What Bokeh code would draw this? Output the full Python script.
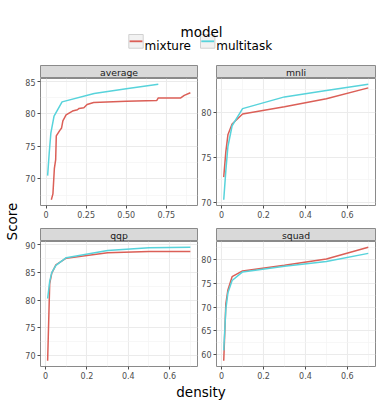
import math
from bokeh.plotting import figure
from bokeh.models import Range1d, FixedTicker, Label
from bokeh.layouts import column, row
from bokeh.embed import file_html
from bokeh.resources import INLINE

# ---------------- data ----------------
models = ["mixture", "multitask"]
panels = ["average", "mnli", "qqp", "squad"]

density = [0.01, 0.02, 0.03, 0.05, 0.1, 0.3, 0.5, 0.7]

avg_mixture_density = [0.033, 0.043, 0.052, 0.060, 0.064, 0.085, 0.097, 0.105,
                       0.125, 0.165, 0.196, 0.206, 0.236, 0.256, 0.297, 0.50,
                       0.69, 0.70, 0.84, 0.862, 0.90]
avg_mixture_score = [66.8, 67.7, 71.6, 72.9, 76.6, 77.4, 77.8, 78.9,
                     79.8, 80.4, 80.6, 80.8, 80.9, 81.4, 81.7, 81.9,
                     82.0, 82.4, 82.4, 82.8, 83.2]
avg_multitask_score = [70.5, 74.0, 77.0, 79.6, 81.8, 83.1, 83.8, 84.5]

mnli_mixture = [72.8, 75.6, 77.5, 78.7, 79.8, 80.6, 81.5, 82.7]
mnli_multitask = [70.3, 73.5, 76.2, 78.5, 80.4, 81.7, 82.4, 83.1]

qqp_mixture = [69.0, 83.0, 84.9, 86.4, 87.6, 88.6, 88.8, 88.8]
qqp_multitask = [80.3, 83.4, 85.0, 86.3, 87.7, 89.0, 89.5, 89.6]

squad_mixture = [58.7, 70.7, 73.6, 76.4, 77.6, 78.8, 80.1, 82.6]
squad_multitask = [60.9, 69.5, 73.0, 75.6, 77.4, 78.6, 79.6, 81.3]

avg_x_ticks = [0, 0.25, 0.5, 0.75]
avg_x_labels = ["0", "0.25", "0.50", "0.75"]
task_x_ticks = [0, 0.2, 0.4, 0.6]
task_x_labels = ["0", "0.2", "0.4", "0.6"]
avg_y_ticks = [70, 75, 80, 85]
mnli_y_ticks = [70, 75, 80]
qqp_y_ticks = [70, 75, 80, 85, 90]
squad_y_ticks = [60, 65, 70, 75, 80]

# ---------------- style ----------------
COLORS = {"mixture": "#DB5F57", "multitask": "#57D3DB"}
FONT = "DejaVu Sans"
BORDER = "#8a8a8a"
TICK_TXT = "#4d4d4d"

YLAB_W = 22
LEFT_W, RIGHT_W = 176, 179
LEFT_MB_L, RIGHT_MB_L = 15, 16
LEFT_MB_R, RIGHT_MB_R = 1, 2


def expand(vals, mult=0.05):
    lo, hi = min(vals), max(vals)
    d = (hi - lo) * mult
    return lo - d, hi + d


def minor_of(ticks, lo, hi):
    step = ticks[1] - ticks[0]
    cands = [ticks[0] - step / 2] + [t + step / 2 for t in ticks]
    return [c for c in cands if lo <= c <= hi]


def make_panel(series, xticks, xlabels, yticks, width, mb_left, mb_right, height, bottom):
    allx = [v for s in series for v in s[1]]
    ally = [v for s in series for v in s[2]]
    x0, x1 = expand(allx)
    y0, y1 = expand(ally)
    p = figure(width=width, height=height, x_range=Range1d(x0, x1), y_range=Range1d(y0, y1),
               min_border_left=mb_left, min_border_right=mb_right, min_border_top=0,
               min_border_bottom=bottom, toolbar_location=None, output_backend="svg")
    p.xaxis.ticker = FixedTicker(ticks=xticks, minor_ticks=minor_of(xticks, x0, x1))
    p.yaxis.ticker = FixedTicker(ticks=yticks, minor_ticks=minor_of(yticks, y0, y1))
    p.xaxis.major_label_overrides = {t: l for t, l in zip(xticks, xlabels)}
    p.yaxis.major_label_overrides = {t: str(t) for t in yticks}
    for ax in (p.xaxis, p.yaxis):
        ax.axis_line_color = None
        ax.minor_tick_line_color = None
        ax.major_tick_line_color = "#4d4d4d"
        ax.major_tick_out = 3
        ax.major_tick_in = 0
        ax.major_label_standoff = 1
        ax.major_label_text_font = FONT
        ax.major_label_text_font_size = "8px"
        ax.major_label_text_color = TICK_TXT
    for g in (p.xgrid, p.ygrid):
        g.grid_line_color = "#ebebeb"
        g.grid_line_width = 1.1
        g.minor_grid_line_color = "#f3f3f3"
        g.minor_grid_line_width = 0.7
    p.outline_line_color = BORDER
    p.outline_line_width = 1
    p.background_fill_color = "white"
    for model, xs, ys in series:
        p.line(xs, ys, line_color=COLORS[model], line_width=1.5)
    return p


def make_strip(name, width, mb_left, mb_right):
    s = figure(width=width, height=13, x_range=Range1d(0, 1), y_range=Range1d(0, 1),
               min_border_left=mb_left, min_border_right=mb_right, min_border_top=0,
               min_border_bottom=0, x_axis_location=None, y_axis_location=None,
               toolbar_location=None, output_backend="svg")
    s.grid.visible = False
    s.background_fill_color = "#d9d9d9"
    s.outline_line_color = BORDER
    s.add_layout(Label(x=0.5, y=0.45, text=name, text_align="center", text_baseline="middle",
                       text_font=FONT, text_font_size="9.3px", text_color="#1a1a1a"))
    return s


def blank(width, height):
    b = figure(width=width, height=height, x_range=Range1d(0, width), y_range=Range1d(height, 0),
               min_border=0, x_axis_location=None, y_axis_location=None,
               toolbar_location=None, output_backend="svg")
    b.grid.visible = False
    b.outline_line_color = None
    b.background_fill_color = "white"
    return b


p_avg = make_panel([("mixture", avg_mixture_density, avg_mixture_score),
                    ("multitask", density, avg_multitask_score)],
                   avg_x_ticks, avg_x_labels, avg_y_ticks, LEFT_W, LEFT_MB_L, LEFT_MB_R, 150, 23)
p_mnli = make_panel([("mixture", density, mnli_mixture),
                     ("multitask", density, mnli_multitask)],
                    task_x_ticks, task_x_labels, mnli_y_ticks, RIGHT_W, RIGHT_MB_L, RIGHT_MB_R, 150, 23)
p_qqp = make_panel([("mixture", density, qqp_mixture),
                    ("multitask", density, qqp_multitask)],
                   task_x_ticks, task_x_labels, qqp_y_ticks, LEFT_W, LEFT_MB_L, LEFT_MB_R, 140, 15)
p_squad = make_panel([("mixture", density, squad_mixture),
                      ("multitask", density, squad_multitask)],
                     task_x_ticks, task_x_labels, squad_y_ticks, RIGHT_W, RIGHT_MB_L, RIGHT_MB_R, 140, 15)

# header: legend title + keys
TOTAL_W = YLAB_W + LEFT_W + RIGHT_W
header = blank(TOTAL_W, 65)
header.add_layout(Label(x=201, y=31.7, text="model", text_align="center", text_baseline="alphabetic",
                        text_font=FONT, text_font_size="13.5px", text_color="black"))
key_left = [128.3, 200.0]
for i, m in enumerate(models):
    kx = key_left[i]
    header.quad(left=[kx], right=[kx + 14.4], top=[34], bottom=[47.7],
                fill_color="#f2f2f2", line_color="#d0d0d0", line_width=1)
    header.segment(x0=[kx + 0.8], y0=[40.8], x1=[kx + 13.6], y1=[40.8],
                   line_color=COLORS[m], line_width=1.8, level="overlay")
    header.add_layout(Label(x=kx + 15.7, y=45, text=m, text_align="left", text_baseline="alphabetic",
                            text_font=FONT, text_font_size="12px", text_color="black"))

# y axis title
ylab = blank(YLAB_W, 316)
ylab.add_layout(Label(x=11.7, y=156, text="Score", angle=math.pi / 2, text_align="center",
                      text_baseline="middle", text_font=FONT, text_font_size="13.5px",
                      text_color="black"))

# x axis title
xlab = blank(TOTAL_W, 20)
xlab.add_layout(Label(x=200.5, y=10, text="density", text_align="center", text_baseline="alphabetic",
                      text_font=FONT, text_font_size="13.5px", text_color="black"))

left_col = column(make_strip(panels[0], LEFT_W, LEFT_MB_L, LEFT_MB_R), p_avg,
                  make_strip(panels[2], LEFT_W, LEFT_MB_L, LEFT_MB_R), p_qqp, spacing=0)
right_col = column(make_strip(panels[1], RIGHT_W, RIGHT_MB_L, RIGHT_MB_R), p_mnli,
                   make_strip(panels[3], RIGHT_W, RIGHT_MB_L, RIGHT_MB_R), p_squad, spacing=0)
layout = column(header, row(ylab, left_col, right_col, spacing=0), xlab, spacing=0)

open("out.html", "w").write(file_html(layout, INLINE))
